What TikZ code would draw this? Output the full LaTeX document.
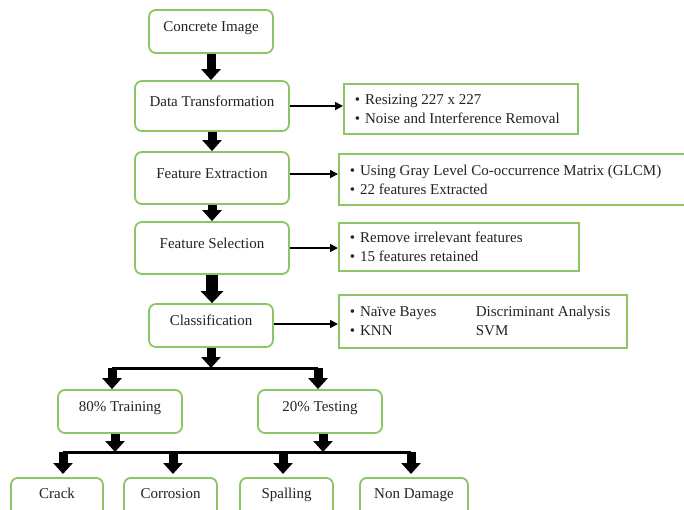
\documentclass[tikz,border=0pt]{standalone}
\usepackage{fontspec}
\setmainfont{Liberation Serif}
\usetikzlibrary{arrows.meta}
\definecolor{boxgreen}{RGB}{140,198,100}
\definecolor{txt}{RGB}{35,35,35}
\begin{document}
\begin{tikzpicture}[x=1pt,y=-1pt,
  every node/.style={font=\fontsize{15}{19}\selectfont, text=txt},
  procbox/.style n args={3}{draw=boxgreen, line width=1.8pt, rounded corners=7pt, fill=white,
     inner xsep=0pt, inner ysep=0pt, minimum width=#1pt, text height=#2pt, text depth=#3pt, align=center},
  infobox/.style n args={3}{draw=boxgreen, line width=1.8pt, fill=white, anchor=north west,
     inner xsep=11pt, inner ysep=0pt, minimum width=#1pt, minimum height=#2pt, text width=#3pt, align=flush left},
  bigarrow/.style={draw=black, line width=9pt, -{Triangle[width=19pt,length=11pt]}},
  heavyarrow/.style={draw=black, line width=12pt, -{Triangle[width=22pt,length=12pt]}},
  thinarrow/.style={draw=black, line width=1.6pt, -{Triangle[width=8pt,length=8pt]}},
  busline/.style={draw=black, line width=3pt}]
\useasboundingbox (0,0) rectangle (684,509);
\clip (0,0) rectangle (684,509);
\fill[white] (0,0) rectangle (684,509);

% process boxes
\node[procbox={124}{21.5}{21.5}] (concrete) at (211,31.5) {Concrete Image};
\node[procbox={154}{25}{25}] (data) at (212,106) {Data Transformation};
\node[procbox={154}{26}{26}] (featext) at (212,178) {Feature Extraction};
\node[procbox={154}{26}{26}] (featsel) at (212,248) {Feature Selection};
\node[procbox={124}{21.5}{21.5}] (class) at (211,325.5) {Classification};
\node[procbox={124}{21.5}{21.5}] (train) at (120,411.5) {80\% Training};
\node[procbox={124}{21.5}{21.5}] (test) at (320,411.5) {20\% Testing};
\node[procbox={92}{21}{25}, anchor=north] (crack) at (57,477) {Crack};
\node[procbox={93}{21}{25}, anchor=north] (corr) at (170.5,477) {Corrosion};
\node[procbox={93}{21}{25}, anchor=north] (spall) at (286.5,477) {Spalling};
\node[procbox={108}{21}{25}, anchor=north] (nondam) at (414,477) {Non Damage};

% info boxes
\node[infobox={234}{50}{212}] (dtinfo) at (343,83)
  {\textbullet\hspace{5pt}Resizing 227 x 227\\\textbullet\hspace{5pt}Noise and Interference Removal};
\node[infobox={362}{51}{340}] (feinfo) at (338,153)
  {\textbullet\hspace{5pt}Using Gray Level Co-occurrence Matrix (GLCM)\\\textbullet\hspace{5pt}22 features Extracted};
\node[infobox={240}{48}{218}] (fsinfo) at (338,222)
  {\textbullet\hspace{5pt}Remove irrelevant features\\\textbullet\hspace{5pt}15 features retained};
\node[infobox={288}{53}{266}] (clinfo) at (338,294)
  {\makebox[126pt][l]{\textbullet\hspace{5pt}Naïve Bayes}Discriminant Analysis\\\makebox[126pt][l]{\textbullet\hspace{5pt}KNN}SVM};

% main vertical flow
\draw[bigarrow] (concrete.south) -- (concrete.south |- data.north);
\draw[bigarrow] (data.south) -- (data.south |- featext.north);
\draw[bigarrow] (featext.south) -- (featext.south |- featsel.north);
\draw[heavyarrow] (featsel.south) -- (featsel.south |- class.north);

% side arrows
\draw[thinarrow] (data.east) -- (data.east -| dtinfo.west);
\draw[thinarrow] ([yshift=4pt]featext.east) -- ([yshift=4pt]featext.east -| feinfo.west);
\draw[thinarrow] (featsel.east) -- (featsel.east -| fsinfo.west);
\draw[thinarrow] ([yshift=1.5pt]class.east) -- ([yshift=1.5pt]class.east -| clinfo.west);

% split into training / testing
\coordinate (busA) at (211,368);
\coordinate (busAL) at (112,368);
\coordinate (busAR) at (318,368);
\draw[bigarrow] (class.south) -- (busA);
\draw[busline] (busAL) -- (busAR);
\draw[bigarrow] (busAL) -- (busAL |- train.north);
\draw[bigarrow] (busAR) -- (busAR |- test.north);

% classes
\coordinate (busBL) at (63,452);
\coordinate (busB2) at (173,452);
\coordinate (busB3) at (283,452);
\coordinate (busBR) at (411,452);
\draw[bigarrow] ([xshift=-5pt]train.south) -- ([xshift=-5pt]train.south |- busBL);
\draw[bigarrow] ([xshift=3pt]test.south) -- ([xshift=3pt]test.south |- busBL);
\draw[busline] (busBL) -- (busBR);
\draw[bigarrow, shorten >=3pt] (busBL) -- (busBL |- crack.north);
\draw[bigarrow, shorten >=3pt] (busB2) -- (busB2 |- corr.north);
\draw[bigarrow, shorten >=3pt] (busB3) -- (busB3 |- spall.north);
\draw[bigarrow, shorten >=3pt] (busBR) -- (busBR |- nondam.north);
\end{tikzpicture}
\end{document}
